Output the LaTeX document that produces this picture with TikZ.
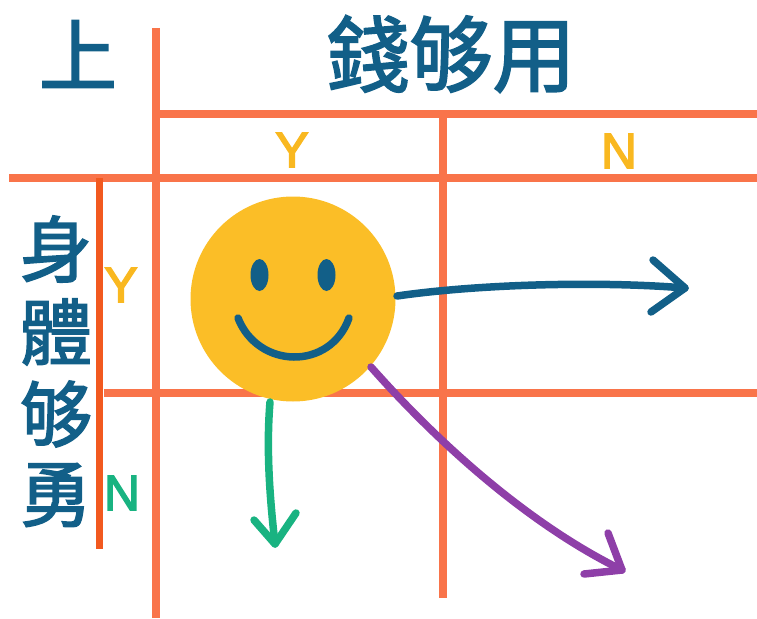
\documentclass[tikz,border=0pt]{standalone}
\usepackage{fontspec}
\setmainfont[FakeBold=3]{Liberation Sans}
\newfontfamily\cjk[FakeBold=2.2]{Noto Sans CJK TC}
\definecolor{gridor}{HTML}{F9744A}
\definecolor{gridred}{HTML}{F2591F}
\definecolor{tealb}{HTML}{125F88}
\definecolor{amber}{HTML}{F9B820}
\definecolor{smile}{HTML}{FBBE27}
\definecolor{greenc}{HTML}{19B381}
\definecolor{purp}{HTML}{8E3FA8}
\begin{document}
\begin{tikzpicture}[x=1pt,y=-1pt,
  gridline/.style={draw=gridor,line width=7.5pt},
  arrowline/.style={line width=7.5pt,line cap=round,line join=round},
  title/.style={text=tealb,font=\cjk\fontsize{#1}{#1}\selectfont,inner sep=0pt},
  lab/.style={font=\fontsize{50}{50}\selectfont,inner sep=0pt}]
\useasboundingbox (0,0) rectangle (757,618);
\coordinate (v1t) at (156,28); \coordinate (v1b) at (156,618);
\coordinate (v2t) at (443,115); \coordinate (v2b) at (443,598);
\coordinate (h1l) at (156,114); \coordinate (h1r) at (757,114);
\coordinate (h2l) at (9,178); \coordinate (h2r) at (757,178);
\coordinate (h3l) at (104,393); \coordinate (h3r) at (757,393);
\coordinate (v0t) at (99,178); \coordinate (v0b) at (99,549);
\draw[gridline] (v1t)--(v1b);
\draw[gridline] (v2t)--(v2b);
\draw[gridline] (h1l)--(h1r);
\draw[gridline] (h2l)--(h2r);
\draw[gridline] (h3l)--(h3r);
\draw[draw=gridred,line width=7pt] (v0t)--(v0b);
\node[title=78] (t0) at (78,54) {上};
\node[title=83] (t1) at (451,54) {錢够用};
\node[title=72] (s1) at (56,249) {身};
\node[title=72] (s2) at (56,332) {體};
\node[title=72] (s3) at (56,414) {够};
\node[title=72] (s4) at (56,495) {勇};
\node[lab,text=amber] (ly) at (292,150) {Y};
\node[lab,text=amber] (ln) at (619,151) {N};
\node[lab,text=amber] (lyy) at (121,285) {Y};
\node[lab,text=greenc] (lnn) at (122,493) {N};
\node[circle,fill=smile,minimum size=205pt,inner sep=0pt] (face) at (293,299) {};
\fill[tealb] (259.5,275) ellipse (9pt and 16pt);
\fill[tealb] (326.5,275) ellipse (9pt and 16pt);
\draw[tealb,arrowline] (238,318) .. controls (258,369) and (330,371) .. (349,318);
\coordinate (ab) at (397,296);
\coordinate (ae) at (685,288);
\draw[tealb,arrowline] (ab) .. controls (480,284) and (600,281) .. (ae);
\draw[tealb,arrowline] (653,260)--(ae)--(651,312);
\coordinate (gb) at (270,402);
\coordinate (ge) at (275,544);
\draw[greenc,arrowline] (gb) .. controls (266,450) and (270,500) .. (ge);
\draw[greenc,arrowline] (254,520)--(ge)--(296,513);
\coordinate (pb) at (371,367);
\coordinate (pe) at (622,570);
\draw[purp,arrowline] (pb) .. controls (440,445) and (530,525) .. (pe);
\draw[purp,arrowline] (608,533)--(pe)--(584,574);
\end{tikzpicture}
\end{document}
